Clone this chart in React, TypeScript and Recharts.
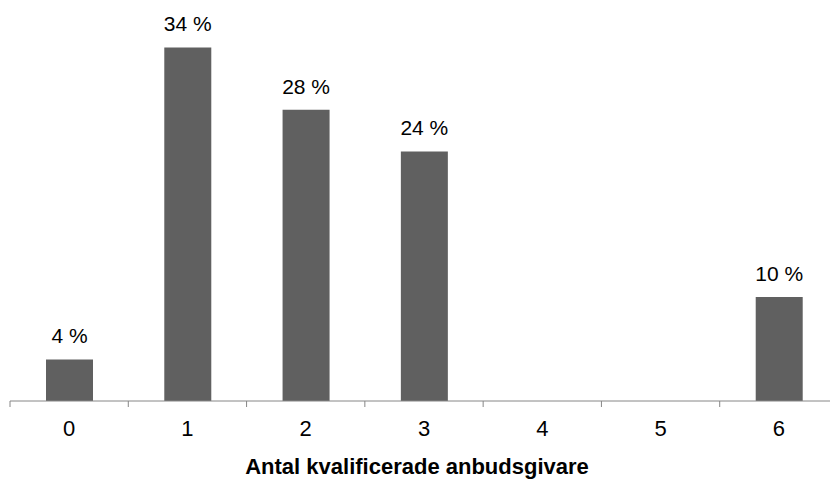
import React from "react";
import { BarChart, Bar, XAxis, YAxis, LabelList, Label } from "recharts";

const categories = ["0", "1", "2", "3", "4", "5", "6"];
const shares = [4, 34, 28, 24, 0, 0, 10];
const axisTitle = "Antal kvalificerade anbudsgivare";

const data = categories.map((c, i) => ({ name: c, value: shares[i] }));

const CHART_W = 840;
const CHART_H = 480;
const MARGIN = { top: 37, right: 2, left: 10, bottom: 0 };
const PLOT_W = CHART_W - MARGIN.left - MARGIN.right;
const BAND = PLOT_W / categories.length;
const FONT = "'Liberation Sans', Arial, sans-serif";

const Tick = (props: any) => {
  const { x, y, payload, index } = props;
  const left = x - BAND / 2;
  const top = y - 2;
  return (
    <g>
      <line x1={left} x2={left} y1={top} y2={top + 6} stroke="#868686" strokeWidth={1} />
      {index === categories.length - 1 && (
        <line x1={left + BAND} x2={left + BAND} y1={top} y2={top + 6} stroke="#868686" strokeWidth={1} />
      )}
      <text x={x} y={y + 33} textAnchor="middle" fontFamily={FONT} fontSize={22} fill="#000">
        {payload.value}
      </text>
    </g>
  );
};

export default function App() {
  return (
    <div
      style={{
        position: "fixed",
        top: 0,
        left: 0,
        width: 830,
        height: 480,
        overflow: "hidden",
        background: "#fff",
      }}
    >
      <BarChart width={CHART_W} height={CHART_H} data={data} margin={MARGIN}>
        <XAxis
          dataKey="name"
          height={79}
          tickLine={false}
          tickSize={0}
          axisLine={{ stroke: "#868686", strokeWidth: 1 }}
          tick={<Tick />}
          interval={0}
        >
          <Label
            value={axisTitle}
            position="insideBottom"
            offset={6}
            dx={-7}
            style={{ fontFamily: FONT, fontSize: 22, fontWeight: "bold", fill: "#000" }}
          />
        </XAxis>
        <YAxis hide domain={[0, 35]} />
        <Bar dataKey="value" fill="#606060" barSize={47} isAnimationActive={false}>
          <LabelList
            dataKey="value"
            position="top"
            offset={16}
            formatter={(v: any) => (v ? `${v} %` : "")}
            style={{ fontFamily: FONT, fontSize: 21, fill: "#000" }}
          />
        </Bar>
      </BarChart>
    </div>
  );
}
